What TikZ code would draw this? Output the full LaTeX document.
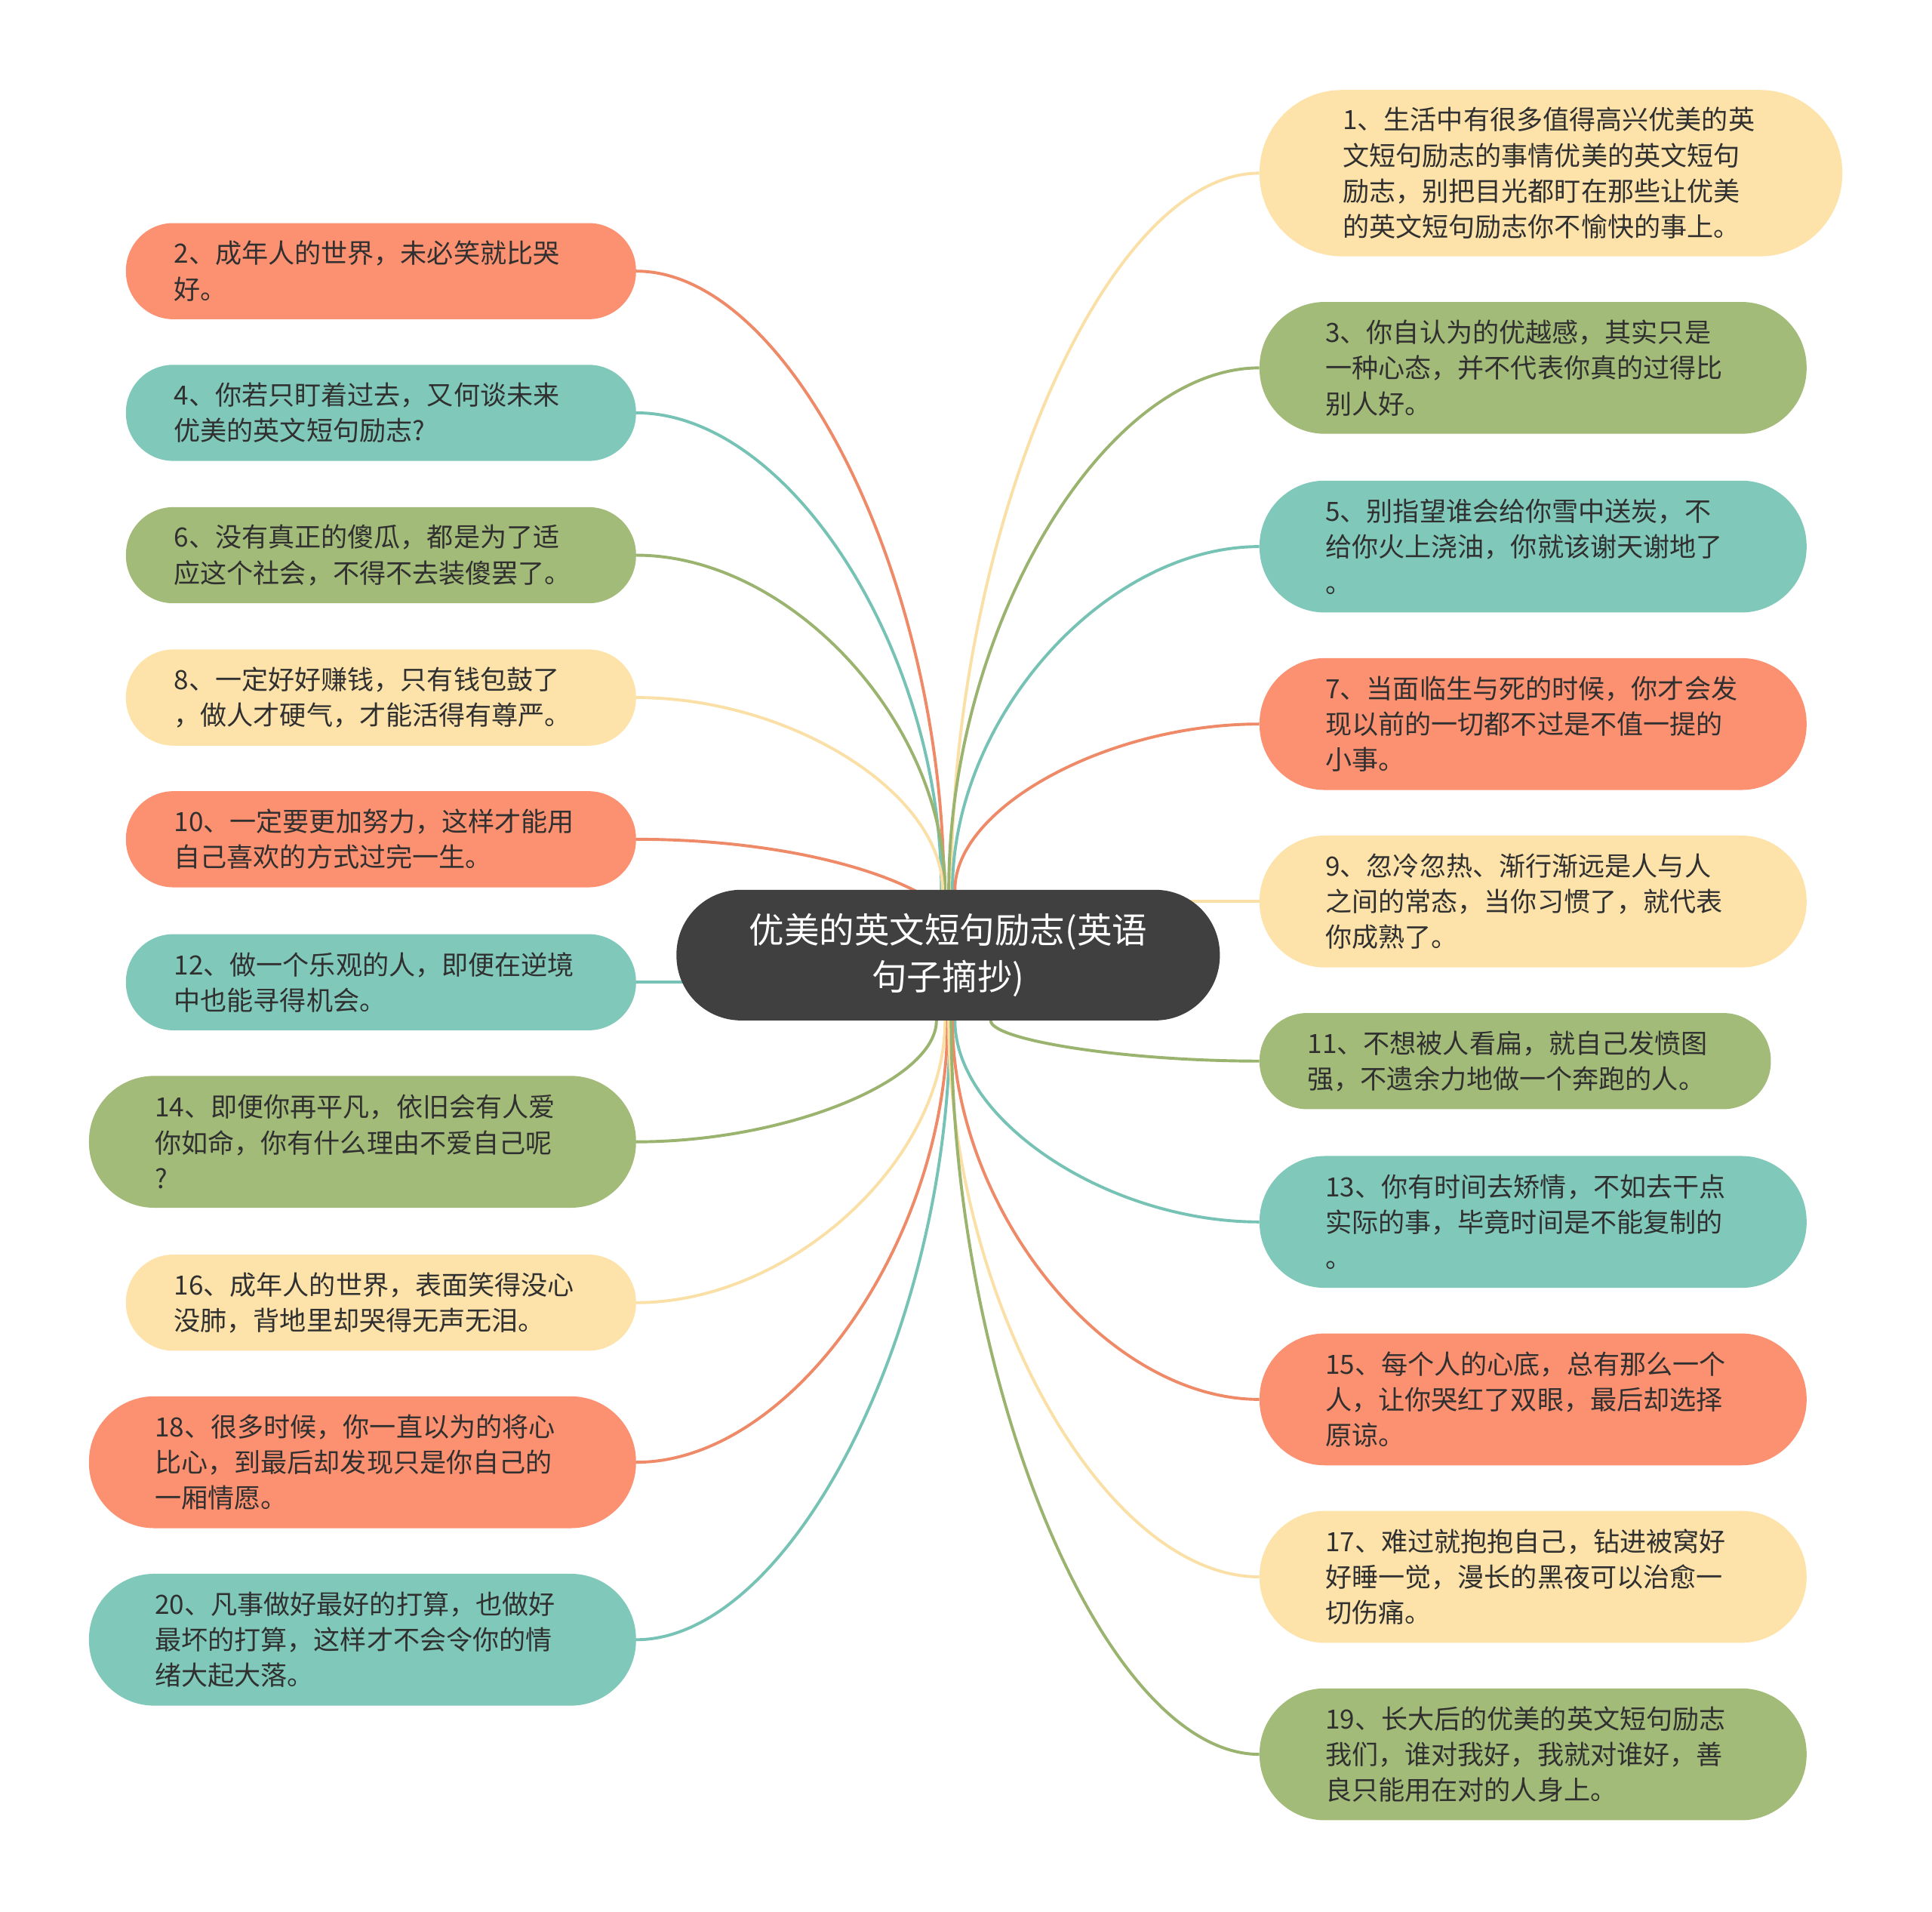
\documentclass[tikz,border=0pt]{standalone}
\usepackage{fontspec}
\newfontfamily\cjk{Noto Sans CJK SC}
\pgfdeclarelayer{bg}
\pgfsetlayers{bg,main}
\definecolor{corange}{HTML}{FC9171}
\definecolor{cteal}{HTML}{80C9BA}
\definecolor{cgreen}{HTML}{A3BB78}
\definecolor{cyellow}{HTML}{FDE3AA}
\definecolor{lorange}{HTML}{EF8A68}
\definecolor{lteal}{HTML}{76C3B5}
\definecolor{lgreen}{HTML}{9AB36E}
\definecolor{lyellow}{HTML}{FAE0A6}
\definecolor{ctext}{HTML}{303030}
\definecolor{ccenter}{HTML}{404040}
\newcommand{\leaffont}{\cjk\fontsize{21.5pt}{29pt}\selectfont}
\newcommand{\rootfont}{\cjk\fontsize{28.5pt}{38pt}\selectfont}
\tikzset{
  leaf/.style={anchor=west, align=left, text=ctext, font=\leaffont, inner ysep=0pt},
  ltwo/.style={leaf, minimum width=414pt, minimum height=78pt, text width=336pt, inner xsep=39pt, rounded corners=38.5pt},
  lthree/.style={leaf, minimum width=444pt, minimum height=107pt, text width=337pt, inner xsep=53.5pt, rounded corners=53pt},
  lfour/.style={leaf, minimum width=473pt, minimum height=135pt, text width=338pt, inner xsep=67.5pt, rounded corners=67pt},
  rtwo/.style={leaf, minimum width=415pt, minimum height=78pt, text width=337pt, inner xsep=39pt, rounded corners=38.5pt},
  con/.style={line width=2.4pt},
  rootnode/.style={fill=ccenter, text=white, font=\rootfont, align=center, minimum width=441pt, minimum height=106pt, rounded corners=52.5pt, inner sep=0pt}
}
\begin{document}
\begin{tikzpicture}[x=1pt,y=-1pt]
\useasboundingbox (0,0) rectangle (1568,1551);

\node[rootnode] (c) at (769.5,775) {优美的英文短句励志(英语\\句子摘抄)};

% left
\node[ltwo, fill=corange] (n2) at (102,220) {2、成年人的世界，未必笑就比哭\\好。};
\node[ltwo, fill=cteal] (n4) at (102,335) {4、你若只盯着过去，又何谈未来\\优美的英文短句励志?};
\node[ltwo, fill=cgreen] (n6) at (102,450.5) {6、没有真正的傻瓜，都是为了适\\应这个社会，不得不去装傻罢了。};
\node[ltwo, fill=cyellow] (n8) at (102,566) {8、一定好好赚钱，只有钱包鼓了\\，做人才硬气，才能活得有尊严。};
\node[ltwo, fill=corange] (n10) at (102,681) {10、一定要更加努力，这样才能用\\自己喜欢的方式过完一生。};
\node[ltwo, fill=cteal] (n12) at (102,797) {12、做一个乐观的人，即便在逆境\\中也能寻得机会。};
\node[lthree, fill=cgreen] (n14) at (72,926.5) {14、即便你再平凡，依旧会有人爱\\你如命，你有什么理由不爱自己呢\\?};
\node[ltwo, fill=cyellow] (n16) at (102,1057) {16、成年人的世界，表面笑得没心\\没肺，背地里却哭得无声无泪。};
\node[lthree, fill=corange] (n18) at (72,1186.5) {18、很多时候，你一直以为的将心\\比心，到最后却发现只是你自己的\\一厢情愿。};
\node[lthree, fill=cteal] (n20) at (72,1330.5) {20、凡事做好最好的打算，也做好\\最坏的打算，这样才不会令你的情\\绪大起大落。};

% right
\node[lfour, fill=cyellow] (n1) at (1022,140.5) {1、生活中有很多值得高兴优美的英\\文短句励志的事情优美的英文短句\\励志，别把目光都盯在那些让优美\\的英文短句励志你不愉快的事上。};
\node[lthree, fill=cgreen] (n3) at (1022,298.5) {3、你自认为的优越感，其实只是\\一种心态，并不代表你真的过得比\\别人好。};
\node[lthree, fill=cteal] (n5) at (1022,443.5) {5、别指望谁会给你雪中送炭，不\\给你火上浇油，你就该谢天谢地了\\。};
\node[lthree, fill=corange] (n7) at (1022,587.5) {7、当面临生与死的时候，你才会发\\现以前的一切都不过是不值一提的\\小事。};
\node[lthree, fill=cyellow] (n9) at (1022,731.5) {9、忽冷忽热、渐行渐远是人与人\\之间的常态，当你习惯了，就代表\\你成熟了。};
\node[rtwo, fill=cgreen] (n11) at (1022,861) {11、不想被人看扁，就自己发愤图\\强，不遗余力地做一个奔跑的人。};
\node[lthree, fill=cteal] (n13) at (1022,991.5) {13、你有时间去矫情，不如去干点\\实际的事，毕竟时间是不能复制的\\。};
\node[lthree, fill=corange] (n15) at (1022,1135.5) {15、每个人的心底，总有那么一个\\人，让你哭红了双眼，最后却选择\\原谅。};
\node[lthree, fill=cyellow] (n17) at (1022,1279.5) {17、难过就抱抱自己，钻进被窝好\\好睡一觉，漫长的黑夜可以治愈一\\切伤痛。};
\node[lthree, fill=cgreen] (n19) at (1022,1423.5) {19、长大后的优美的英文短句励志\\我们，谁对我好，我就对谁好，善\\良只能用在对的人身上。};

% connector end points on the central topic
\coordinate (e2) at (766,722);
\coordinate (e4) at (764,722);
\coordinate (e6) at (767,722);
\coordinate (e8) at (765,722);
\coordinate (e10) at (745,724);
\coordinate (e12) at (600,797);
\coordinate (e14) at (760,828);
\coordinate (e16) at (767,828);
\coordinate (e18) at (769,828);
\coordinate (e20) at (771,828);
\coordinate (e1) at (772,722);
\coordinate (e3) at (770,722);
\coordinate (e5) at (773,722);
\coordinate (e7) at (775,722);
\coordinate (e9) at (940,731.5);
\coordinate (e11) at (804,828);
\coordinate (e13) at (775,828);
\coordinate (e15) at (773,828);
\coordinate (e17) at (770,828);
\coordinate (e19) at (772,828);

\begin{pgfonlayer}{bg}
\draw[con, lorange] (n2.east) .. controls +(125,0) and +(0,-251) .. (e2);
\draw[con, lteal] (n4.east) .. controls +(124,0) and +(0,-194) .. (e4);
\draw[con, lgreen] (n6.east) .. controls +(125,0) and +(0,-136) .. (e6);
\draw[con, lyellow] (n8.east) .. controls +(126,0) and +(0,-78) .. (e8);
\draw[con, lorange] (n10.east) .. controls +(100,0) and +(-45,-24) .. (e10);
\draw[con, lteal] (n12.east) -- (e12);
\draw[con, lgreen] (n14.east) .. controls +(122,0) and +(0,49) .. (e14);
\draw[con, lyellow] (n16.east) .. controls +(125,0) and +(0,114) .. (e16);
\draw[con, lorange] (n18.east) .. controls +(126,0) and +(0,179) .. (e18);
\draw[con, lteal] (n20.east) .. controls +(125,0) and +(0,251) .. (e20);
\draw[con, lyellow] (n1.west) .. controls +(-125,0) and +(0,-291) .. (e1);
\draw[con, lgreen] (n3.west) .. controls +(-126,0) and +(0,-212) .. (e3);
\draw[con, lteal] (n5.west) .. controls +(-125,0) and +(0,-140) .. (e5);
\draw[con, lorange] (n7.west) .. controls +(-123,0) and +(0,-67) .. (e7);
\draw[con, lyellow] (n9.west) -- (e9);
\draw[con, lgreen] (n11.west) .. controls +(-109,0) and +(0,16) .. (e11);
\draw[con, lteal] (n13.west) .. controls +(-123,0) and +(0,81) .. (e13);
\draw[con, lorange] (n15.west) .. controls +(-125,0) and +(0,153) .. (e15);
\draw[con, lyellow] (n17.west) .. controls +(-126,0) and +(0,226) .. (e17);
\draw[con, lgreen] (n19.west) .. controls +(-125,0) and +(0,298) .. (e19);
\end{pgfonlayer}
\end{tikzpicture}
\end{document}
